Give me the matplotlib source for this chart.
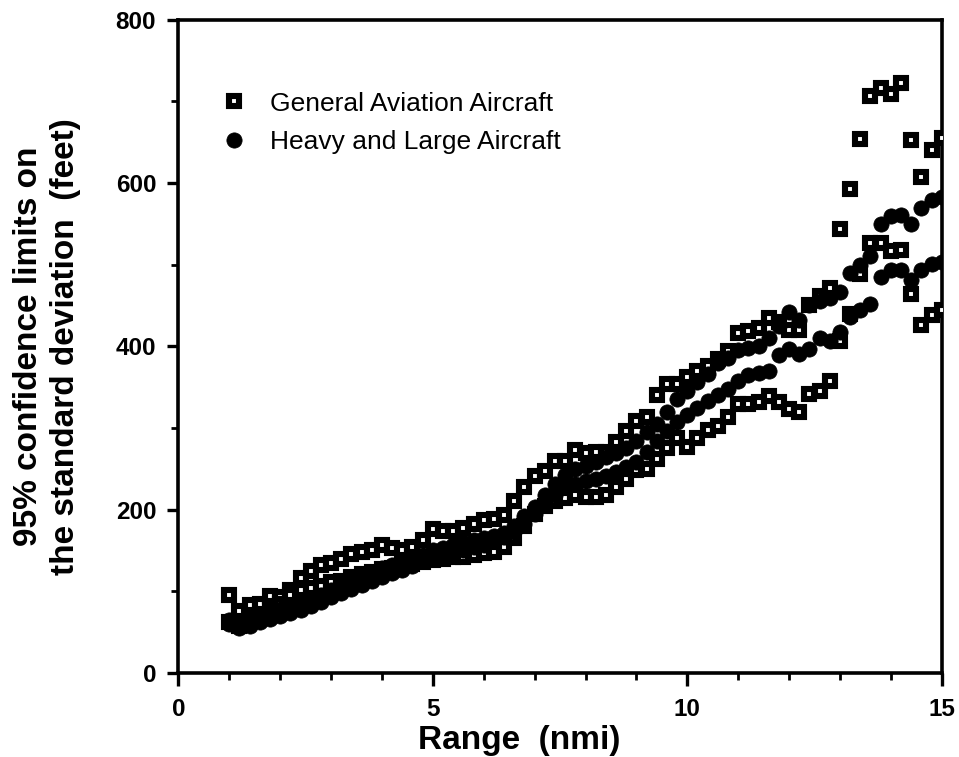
import matplotlib
matplotlib.use("Agg")
import matplotlib.pyplot as plt
from matplotlib.ticker import MultipleLocator

plt.rcParams["font.family"] = ["Liberation Sans", "DejaVu Sans"]

# Range bins (nmi)
range_nmi = [round(1.0 + 0.2 * i, 1) for i in range(71)]

# General aviation aircraft: upper and lower 95% limits (feet)
ga_upper = [95, 76, 83, 84, 94, 93, 102, 116, 125, 132,
            135, 140, 146, 148, 150, 157, 153, 150, 154, 163,
            176, 174, 174, 177, 182, 187, 188, 193, 211, 228,
            241, 247, 260, 260, 273, 269, 270, 271, 283, 296,
            309, 313, 341, 354, 354, 362, 370, 376, 384, 394,
            416, 419, 422, 435, 430, 420, 420, 451, 462, 471,
            544, 593, 654, 707, 716, 709, 722, 653, 607, 641,
            655]
ga_lower = [62, 58, 64, 70, 77, 84, 95, 102, 104, 106,
            112, 113, 118, 121, 124, 127, 129, 131, 133, 136,
            138, 140, 142, 142, 144, 147, 148, 154, 165, 180,
            195, 205, 211, 214, 218, 215, 215, 218, 228, 238,
            249, 250, 262, 276, 288, 277, 288, 297, 303, 314,
            329, 329, 332, 339, 332, 323, 320, 342, 345, 358,
            407, 440, 488, 526, 526, 517, 518, 464, 426, 438,
            444]

# Heavy and large aircraft: upper and lower 95% limits (feet)
heavy_upper = [65, 62, 64, 68, 73, 78, 82, 86, 91, 96,
               102, 108, 114, 119, 124, 128, 132, 136, 140, 145,
               150, 153, 157, 160, 163, 165, 168, 172, 180, 192,
               203, 218, 232, 242, 250, 254, 258, 264, 269, 276,
               284, 295, 305, 320, 336, 345, 356, 366, 379, 386,
               395, 398, 401, 410, 425, 442, 432, 450, 455, 459,
               466, 490, 499, 510, 550, 560, 561, 550, 570, 579,
               583]
heavy_lower = [60, 55, 58, 62, 66, 70, 73, 77, 82, 87,
               93, 98, 103, 108, 113, 118, 122, 126, 131, 137,
               142, 145, 148, 151, 154, 157, 161, 166, 173, 182,
               195, 208, 218, 228, 232, 235, 238, 241, 246, 252,
               258, 270, 284, 296, 307, 316, 325, 333, 340, 348,
               358, 365, 367, 370, 389, 397, 390, 397, 410, 407,
               417, 436, 444, 452, 485, 493, 493, 481, 493, 501,
               503]

x_ticks = [0, 5, 10, 15]
y_ticks = [0, 200, 400, 600, 800]

fig = plt.figure(figsize=(9.59, 7.57), dpi=100)
ax = fig.add_axes([0.186, 0.111, 0.796, 0.863])

square_style = dict(linestyle="none", marker="s", markersize=6.8,
                    markerfacecolor="white", markeredgecolor="black",
                    markeredgewidth=4.4)
circle_style = dict(linestyle="none", marker="o", markersize=11,
                    markerfacecolor="black", markeredgecolor="black",
                    markeredgewidth=0.5)

ax.plot(range_nmi, ga_upper, label="General Aviation Aircraft", zorder=3, **square_style)
ax.plot(range_nmi, ga_lower, zorder=3, **square_style)
ax.plot(range_nmi, heavy_upper, label="Heavy and Large Aircraft", zorder=4, **circle_style)
ax.plot(range_nmi, heavy_lower, zorder=4, **circle_style)

ax.set_xlim(0, 15)
ax.set_ylim(0, 800)
ax.set_xticks(x_ticks)
ax.set_yticks(y_ticks)
ax.xaxis.set_minor_locator(MultipleLocator(1))
ax.yaxis.set_minor_locator(MultipleLocator(100))

for side in ["left", "right", "top", "bottom"]:
    ax.spines[side].set_linewidth(2.6)
ax.tick_params(which="major", direction="out", length=8, width=2.4,
               labelsize=17.5, pad=8)
ax.tick_params(which="minor", direction="out", length=5, width=2.0)
ax.tick_params(axis="x", which="major", length=9, pad=9)
for lbl in ax.get_xticklabels() + ax.get_yticklabels():
    lbl.set_fontweight("bold")

ax.set_xlabel("Range  (nmi)", fontsize=24, fontweight="bold")
ax.xaxis.set_label_coords(0.446, -0.079)
ax.set_ylabel("95% confidence limits on\nthe standard deviation  (feet)",
              fontsize=24, fontweight="bold", linespacing=1.25)
ax.yaxis.set_label_coords(-0.128, 0.5)

ax.legend(loc="upper left", bbox_to_anchor=(0.055, 0.89), frameon=False,
          fontsize=19, handlelength=1.0, handletextpad=0.9,
          borderpad=0, borderaxespad=0, labelspacing=0.55)

fig.savefig("out.png", dpi=100)
